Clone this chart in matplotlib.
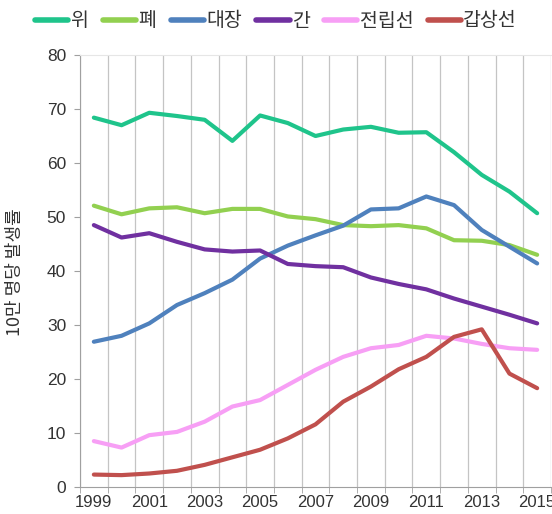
import matplotlib
matplotlib.use("Agg")
import matplotlib.pyplot as plt
import numpy as np

plt.rcParams["font.family"] = ["Liberation Sans", "Noto Sans CJK KR", "DejaVu Sans"]

years = list(range(1999, 2016))
year_labels = [str(y) if y % 2 == 1 else "" for y in years]

series_names = ["위", "폐", "대장", "간", "전립선", "갑상선"]
series_colors = ["#1fc48b", "#92d050", "#4f81bd", "#7030a0", "#f79ff5", "#c0504d"]

stomach = [68.4, 67.0, 69.3, 68.7, 68.0, 64.1, 68.8, 67.4, 65.0, 66.2, 66.7, 65.6, 65.7, 62.0, 57.8, 54.7, 50.7]
lung = [52.1, 50.5, 51.6, 51.8, 50.7, 51.5, 51.5, 50.1, 49.6, 48.5, 48.3, 48.5, 47.9, 45.7, 45.6, 44.8, 43.0]
colon = [26.9, 28.0, 30.3, 33.7, 35.9, 38.4, 42.3, 44.7, 46.6, 48.4, 51.4, 51.6, 53.8, 52.2, 47.6, 44.5, 41.4]
liver = [48.5, 46.2, 47.0, 45.4, 44.0, 43.6, 43.8, 41.3, 40.9, 40.7, 38.8, 37.6, 36.6, 34.9, 33.4, 31.9, 30.3]
prostate = [8.5, 7.3, 9.6, 10.2, 12.1, 14.9, 16.1, 18.9, 21.7, 24.1, 25.7, 26.3, 28.0, 27.5, 26.5, 25.7, 25.4]
thyroid = [2.3, 2.2, 2.5, 3.0, 4.1, 5.5, 6.9, 9.0, 11.6, 15.8, 18.6, 21.8, 24.1, 27.8, 29.2, 21.0, 18.3]

all_series = [stomach, lung, colon, liver, prostate, thyroid]

fig = plt.figure(figsize=(5.52, 5.14), dpi=100)
ax = fig.add_axes([80 / 552, 27 / 514, 471 / 552, 432 / 514])

x = np.arange(len(years))
for name, color, vals in zip(series_names, series_colors, all_series):
    ax.plot(x, vals, color=color, lw=3.0, label=name, solid_capstyle="round",
            solid_joinstyle="round")

ax.set_xlim(-0.5, len(years) - 0.5)
ax.set_ylim(0, 80)
ax.set_yticks(range(0, 81, 10))

# category axis: gridlines between the categories
ax.set_xticks(x)
ax.set_xticklabels(year_labels)
ax.set_xticks(np.arange(-0.5, len(years)), minor=True)
ax.grid(which="minor", axis="x", color="#c4c4c4", lw=0.9)
ax.tick_params(axis="x", which="major", length=0, pad=6, labelsize=12, labelcolor="#333333")
ax.tick_params(axis="x", which="minor", length=4, color="#a0a0a0", direction="out")
ax.tick_params(axis="y", length=4, color="#a0a0a0", labelsize=12.5, labelcolor="#333333", pad=6)

for side in ["left", "bottom"]:
    ax.spines[side].set_color("#a0a0a0")
ax.spines["top"].set_color("#e6e6e6")
ax.spines["right"].set_visible(False)

fig.text(15 / 552, 1 - 272 / 514, "10만 명당 발생률", rotation=90, ha="center", va="center",
         fontsize=13, color="#333333", family=["Noto Sans CJK KR", "DejaVu Sans"])

leg = fig.legend(loc="center", bbox_to_anchor=(0.5, 1 - 21 / 514), ncol=6, frameon=False,
                 handlelength=1.7, handletextpad=0.12, columnspacing=0.75,
                 prop={"family": ["Noto Sans CJK KR", "DejaVu Sans"], "size": 14})
for t in leg.get_texts():
    t.set_color("#333333")
for h in leg.get_lines():
    h.set_linewidth(4)

fig.savefig("out.png", dpi=100)
